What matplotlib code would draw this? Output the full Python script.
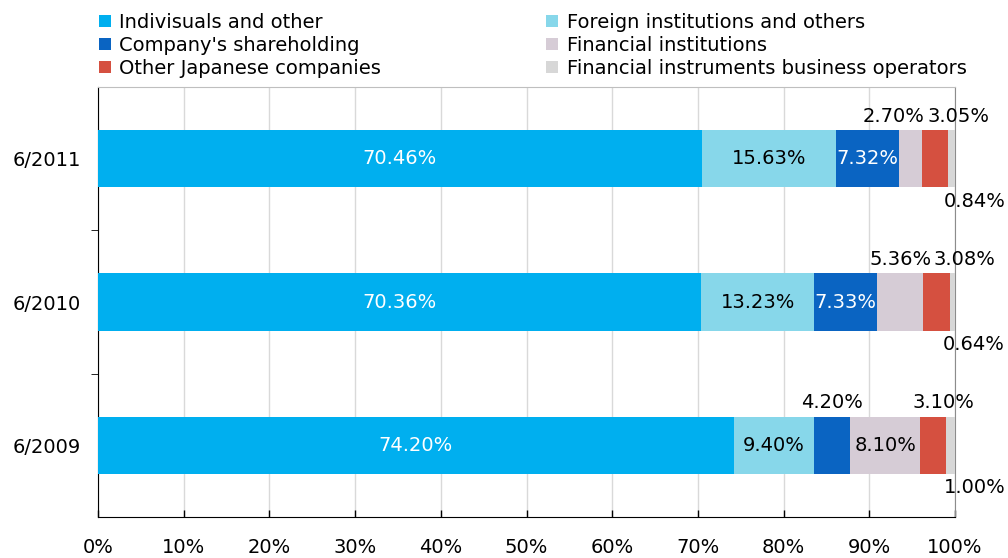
import matplotlib
matplotlib.use("Agg")
import matplotlib.pyplot as plt
from matplotlib.patches import Patch
import numpy as np

plt.rcParams['font.family'] = ['DejaVu Sans']

categories = ["6/2009", "6/2010", "6/2011"]
series_names = ["Indivisuals and other", "Foreign institutions and others",
                "Company's shareholding", "Financial institutions",
                "Other Japanese companies", "Financial instruments business operators"]
individuals = [74.20, 70.36, 70.46]
foreign = [9.40, 13.23, 15.63]
company = [4.20, 7.33, 7.32]
financial_inst = [8.10, 5.36, 2.70]
other_japanese = [3.10, 3.08, 3.05]
fin_instruments = [1.00, 0.64, 0.84]
series = [individuals, foreign, company, financial_inst, other_japanese, fin_instruments]
colors = ["#00AFEF", "#87D7EA", "#0A64C2", "#D6CCD6", "#D55040", "#D7D7D7"]
x_ticks = [0, 10, 20, 30, 40, 50, 60, 70, 80, 90, 100]

FS = 14
label_mode = {
    (2, 0): ("above", 0),
    (3, 0): ("in", 0), (3, 1): ("above", 0), (3, 2): ("above", -17),
    (4, 0): ("above", 10), (4, 1): ("above", 28), (4, 2): ("above", 24),
    (5, 0): ("below", 24), (5, 1): ("below", 21), (5, 2): ("below", 23),
}
inside_colors = ["white", "black", "white", "black", "black", "black"]

fig = plt.figure(figsize=(10.08, 5.58), dpi=100)
ax = fig.add_axes([98/1008, 1 - 517/558, (955 - 98)/1008, (517 - 87)/558])

y = np.arange(len(categories))
bar_h = 0.40
left = np.zeros(len(categories))
for si, vals in enumerate(series):
    vals = np.array(vals)
    ax.barh(y, vals, left=left, height=bar_h, color=colors[si], zorder=3, linewidth=0)
    for ci, v in enumerate(vals):
        cx = left[ci] + v / 2
        mode, dx = label_mode.get((si, ci), ("in", 0))
        txt = f"{v:.2f}%"
        if mode == "in":
            ax.text(cx, y[ci], txt, ha="center", va="center", fontsize=FS,
                    color=inside_colors[si], zorder=4)
        elif mode == "above":
            ax.annotate(txt, (cx, y[ci] + bar_h / 2), xytext=(dx * 0.72, 10),
                        textcoords="offset points", ha="center", va="center",
                        fontsize=FS, color="black", zorder=4)
        else:
            ax.annotate(txt, (cx, y[ci] - bar_h / 2), xytext=(dx * 0.72, -10),
                        textcoords="offset points", ha="center", va="center",
                        fontsize=FS, color="black", zorder=4)
    left = left + vals

ax.set_xlim(0, 100)
ax.set_ylim(-0.5, len(categories) - 0.5)
ax.set_xticks(x_ticks)
ax.set_xticklabels([f"{t}%" for t in x_ticks], fontsize=FS)
ax.tick_params(axis="x", direction="in", length=5, width=1, pad=15, color="black")
ax.set_yticks(y)
ax.set_yticklabels(categories, fontsize=FS)
ax.tick_params(axis="y", which="major", length=0, pad=12)
ax.set_yticks(np.arange(len(categories) - 1) + 0.5, minor=True)
ax.tick_params(axis="y", which="minor", length=5, direction="out", color="black")

ax.grid(axis="x", color="#D9D9D9", linewidth=1, zorder=0)
ax.set_axisbelow(True)
ax.spines["left"].set_color("black")
ax.spines["bottom"].set_color("black")
ax.spines["top"].set_color("#BFBFBF")
ax.spines["right"].set_color("#8C8C8C")

handle_order = [0, 2, 4, 1, 3, 5]
handles = [Patch(facecolor=colors[i], edgecolor="none") for i in handle_order]
labels = [series_names[i] for i in handle_order]
fig.legend(handles, labels, ncol=2, loc="upper left", bbox_to_anchor=(93/1008, 1 - 7/558),
           frameon=False, fontsize=FS, handlelength=0.6, handleheight=0.6,
           handletextpad=0.45, labelspacing=0.2, columnspacing=8.5, borderaxespad=0,
           borderpad=0.3)

fig.savefig("out.png", dpi=100)
